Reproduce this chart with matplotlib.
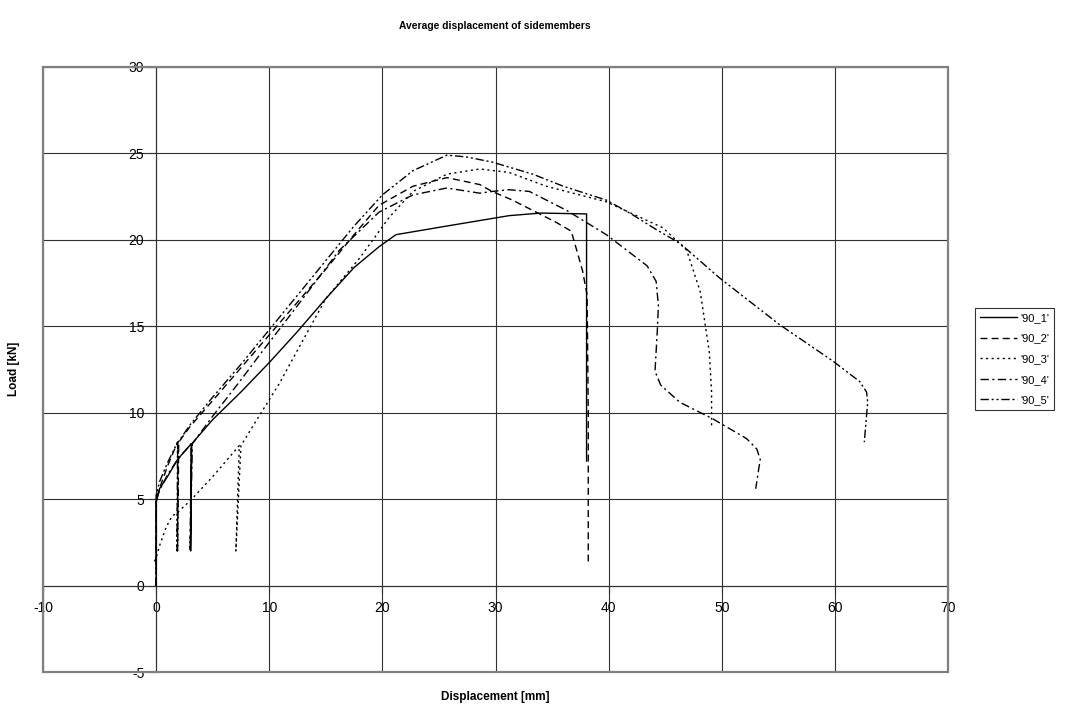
import matplotlib
matplotlib.use("Agg")
import matplotlib.pyplot as plt
from matplotlib.patches import Rectangle

plt.rcParams['font.family'] = ['Liberation Sans', 'DejaVu Sans']
plt.rcParams['axes.unicode_minus'] = False

# load-displacement curves
x1 = [0, 0, 0.3, 1.0, 1.9, 3.1, 3.05, 3.15, 5, 7.5, 10, 12.5, 15, 17.5, 19.7, 21.2, 25.7, 31.2, 34, 38.05, 38.05]
y1 = [0, 4.8, 5.6, 6.3, 7.3, 8.2, 2.0, 8.2, 9.6, 11.2, 12.9, 14.7, 16.6, 18.4, 19.6, 20.3, 20.8, 21.4, 21.55, 21.5, 7.2]

x2 = [0, 0, 0.4, 1.0, 1.9, 1.9, 2.0, 3, 5, 7.5, 10, 12.5, 15, 17.5, 19.7, 22.7, 25.7, 28.6, 29.7,
      31.5, 33.6, 35.4, 36.7, 37.7, 38.1, 38.2, 38.2]
y2 = [0, 5.0, 5.8, 6.9, 8.3, 2.0, 8.3, 9.2, 10.7, 12.6, 14.5, 16.4, 18.3, 20.3, 22.0, 23.1, 23.6, 23.2, 22.8,
      22.3, 21.6, 21.0, 20.5, 18.2, 16.8, 10.0, 1.2]

x3 = [-0.15, 0, 0.3, 0.9, 1.4, 2.0, 3.0, 5.0, 7.35, 7.05, 7.5, 9.0, 10.9, 12.4, 15, 18, 20.6, 22.7, 25.7,
      28.6, 31.2, 34.5, 39.8, 44.8, 46.9, 48.1, 48.9, 49.1, 49.1]
y3 = [1.4, 1.6, 2.3, 3.4, 4.0, 4.3, 4.9, 6.3, 8.1, 2.0, 8.1, 9.7, 11.7, 13.5, 16.6, 18.95, 21.3, 22.8, 23.8,
      24.1, 23.9, 23.1, 22.2, 20.7, 19.4, 17.0, 13.5, 11.2, 9.2]

x4 = [0, 0, 0.3, 1.0, 1.9, 3.1, 3.0, 3.2, 5, 7.5, 9.1, 12.5, 16.2, 19.7, 22.7, 25.7, 28.6, 29.7, 31.2, 33.0,
      36.3, 39.8, 43.4, 44.2, 44.4, 44.3, 44.1, 44.6, 46.3, 49.2, 52.2, 53.1, 53.4, 53.0]
y4 = [0, 4.9, 5.5, 6.4, 7.3, 8.2, 2.0, 8.2, 9.8, 11.9, 13.3, 16.2, 19.4, 21.6, 22.6, 23.0, 22.7, 22.8, 22.9, 22.8,
      21.7, 20.3, 18.5, 17.6, 16.2, 14.7, 12.4, 11.6, 10.6, 9.65, 8.5, 7.9, 7.3, 5.6]

x5 = [0, 0, 0.3, 1.0, 1.9, 1.85, 1.95, 3, 5, 7.5, 10, 12.5, 15, 17.5, 20, 22.7, 25.7, 27.4, 29.7, 33.3, 36,
      39.8, 42, 44.2, 46.3, 49.8, 55.1, 59.8, 62.2, 62.8, 62.9, 62.6]
y5 = [0, 5.2, 6.0, 7.1, 8.3, 2.0, 8.3, 9.3, 10.9, 12.8, 14.8, 16.8, 18.8, 20.8, 22.6, 24.0, 24.9, 24.8, 24.5,
      23.8, 23.1, 22.3, 21.5, 20.6, 19.8, 17.8, 15.1, 13.0, 11.8, 11.2, 10.6, 8.3]

series = [("'90_1'", x1, y1, None),
          ("'90_2'", x2, y2, (5, 3)),
          ("'90_3'", x3, y3, (1.5, 2.5)),
          ("'90_4'", x4, y4, (6, 2.5, 1.5, 2.5)),
          ("'90_5'", x5, y5, (6, 2, 1.5, 2, 1.5, 2))]

fig = plt.figure(figsize=(10.73, 7.10), dpi=100)
ax = fig.add_axes([43 / 1073, 38 / 710, 905 / 1073, 605 / 710])

for name, xs, ys, dash in series:
    line, = ax.plot(xs, ys, color='black', lw=1.0, label=name, zorder=3)
    if dash is not None:
        line.set_dashes(dash)

ax.set_xlim(-10, 70)
ax.set_ylim(-5, 30)
ax.set_xticks(range(-10, 71, 10))
ax.set_yticks(range(-5, 31, 5))
ax.grid(True, color='#303030', lw=0.8)
ax.set_axisbelow(True)

# axes cross at zero, like the spreadsheet chart
ax.spines['left'].set_position(('data', 0))
ax.spines['bottom'].set_position(('data', 0))
for s in ['left', 'bottom']:
    ax.spines[s].set_color('#303030')
    ax.spines[s].set_linewidth(0.8)
ax.spines['top'].set_visible(False)
ax.spines['right'].set_visible(False)
ax.add_patch(Rectangle((0, 0), 1, 1, transform=ax.transAxes, fill=False,
                       edgecolor='#808080', lw=1.6, zorder=4, clip_on=False))
ax.tick_params(direction='out', length=5, width=0.8, color='#303030', labelsize=10)
ax.tick_params(axis='y', pad=3.5)
ax.tick_params(axis='x', pad=6)

fig.text(495 / 1073, 1 - 26 / 710, "Average displacement of sidemembers",
         ha='center', va='center', fontsize=7.4, fontweight='bold')
fig.text(495 / 1073, 1 - 697 / 710, "Displacement [mm]",
         ha='center', va='center', fontsize=8.5, fontweight='bold')
fig.text(14 / 1073, 1 - 369 / 710, "Load [kN]", rotation=90,
         ha='center', va='center', fontsize=8.5, fontweight='bold')

leg = fig.legend(loc='upper left', bbox_to_anchor=(975 / 1073, 1 - 308 / 710),
                 fontsize=8, frameon=True, fancybox=False, handlelength=3.3,
                 borderaxespad=0, labelspacing=0.95, handletextpad=0.3, borderpad=0.45)
leg.get_frame().set_edgecolor('black')
leg.get_frame().set_linewidth(0.8)

fig.savefig("out.png", dpi=100)
